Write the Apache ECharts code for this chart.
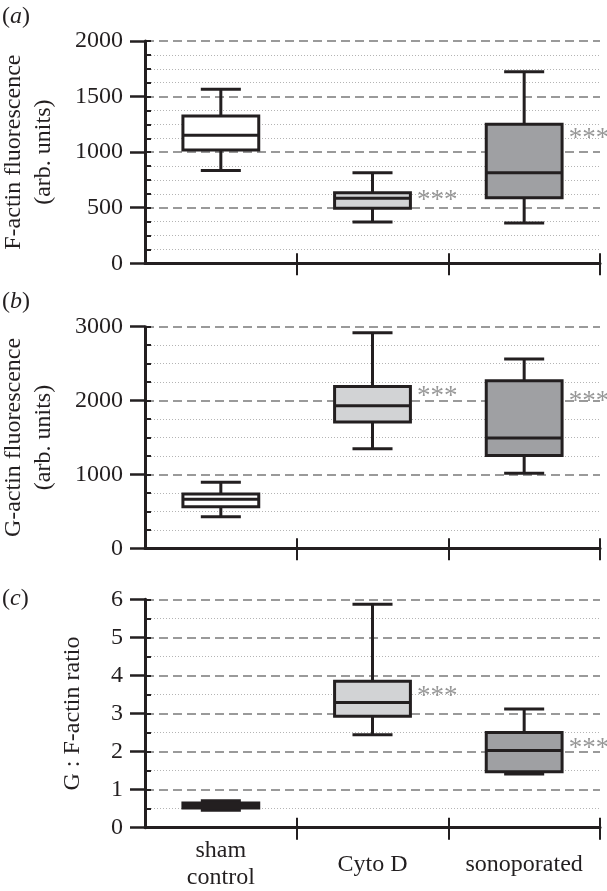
<!DOCTYPE html>
<html><head><meta charset="utf-8">
<script src="https://cdn.jsdelivr.net/npm/echarts@6/dist/echarts.min.js"></script>
<style>html,body{margin:0;padding:0;background:#fff}#c{width:607px;height:891px}</style>
</head><body><div id="c"></div>
<script>
// ---- data ----
const categories = ['sham\ncontrol', 'Cyto D', 'sonoporated'];
// [min, Q1, median, Q3, max]
const fActinBoxes = [[836, 1019, 1151, 1325, 1567], [371, 495, 585, 635, 815], [362, 590, 815, 1250, 1723]];
const gActinBoxes = [[428, 563, 663, 735, 893], [1348, 1709, 1930, 2192, 2918], [1015, 1258, 1493, 2268, 2562]];
const ratioBoxes = [[0.46, 0.52, 0.58, 0.65, 0.71], [2.44, 2.93, 3.29, 3.85, 5.87], [1.41, 1.47, 2.03, 2.50, 3.12]];
// significance marks: [category index, value where '***' sits]
const fActinSig = [[1, 560], [2, 1115]];
const gActinSig = [[1, 2050], [2, 1985]];
const ratioSig = [[1, 3.43], [2, 2.06]];
const sigText = '***';
const panelLetters = ['a', 'b', 'c'];
const yNames = ['F-actin fluorescence\n(arb. units)', 'G-actin fluorescence\n(arb. units)', 'G : F-actin ratio'];
const yMax = [2000, 3000, 6];
const yMajor = [500, 1000, 1];
const yMinor = [125, 250, 0.5];

// ---- styling ----
const FONT = '"Liberation Serif", "DejaVu Serif", serif';
const INK = '#231f20';
const boxFills = ['#ffffff', '#d2d3d5', '#9fa0a3'];
const panels = [
  { top: 41, height: 222.3, nameGap: 86, labelTop: 5 },
  { top: 326.7, height: 221.6, nameGap: 86, labelTop: 290 },
  { top: 599.3, height: 228.4, nameGap: 57, labelTop: 587 }
];
const boxesAll = [fActinBoxes, gActinBoxes, ratioBoxes];
const sigAll = [fActinSig, gActinSig, ratioSig];

function renderBox(params, api) {
  const c = api.value(0);
  const pts = [1, 2, 3, 4, 5].map(k => api.coord([c, api.value(k)]));
  const x = pts[0][0];
  const band = api.size([1, 0])[0];
  const hw = band * 0.25, cw = band * 0.132;
  const st = { stroke: INK, lineWidth: 3, fill: null };
  return {
    type: 'group', children: [
      { type: 'line', shape: { x1: x, y1: pts[0][1], x2: x, y2: pts[1][1] }, style: st },
      { type: 'line', shape: { x1: x, y1: pts[3][1], x2: x, y2: pts[4][1] }, style: st },
      { type: 'line', shape: { x1: x - cw, y1: pts[0][1], x2: x + cw, y2: pts[0][1] }, style: st },
      { type: 'line', shape: { x1: x - cw, y1: pts[4][1], x2: x + cw, y2: pts[4][1] }, style: st },
      { type: 'rect', shape: { x: x - hw, y: pts[3][1], width: 2 * hw, height: pts[1][1] - pts[3][1] },
        style: { fill: boxFills[c], stroke: INK, lineWidth: 3 } },
      { type: 'line', shape: { x1: x - hw, y1: pts[2][1], x2: x + hw, y2: pts[2][1] }, style: st }
    ]
  };
}

const grid = [], xAxis = [], yAxis = [], series = [], graphic = [];
const tickSkipFirst = function (index) { return index !== 0; };
panels.forEach((p, i) => {
  grid.push({ left: 145, width: 455, top: p.top, height: p.height, containLabel: false, outerBoundsMode: 'none' });
  const last = i === 2;
  xAxis.push({
    type: 'category', gridIndex: i, data: categories, boundaryGap: true,
    axisLine: { lineStyle: { color: INK, width: 3 } },
    axisTick: { show: true, interval: tickSkipFirst, length: 12, lineStyle: { color: INK, width: 2 } },
    axisLabel: { show: last, interval: 0, margin: 37, verticalAlign: 'middle', fontFamily: FONT, fontSize: 24, lineHeight: 27, color: INK },
    splitLine: { show: false }
  });
  xAxis.push({
    type: 'category', gridIndex: i, data: categories, boundaryGap: true, position: 'bottom',
    axisLine: { show: false },
    axisTick: { show: true, inside: true, interval: tickSkipFirst, length: 10, lineStyle: { color: INK, width: 2 } },
    axisLabel: { show: false }, splitLine: { show: false }
  });
  yAxis.push({
    type: 'value', gridIndex: i, min: 0, max: yMax[i], interval: yMajor[i], position: 'left',
    name: yNames[i], nameLocation: 'middle', nameGap: p.nameGap,
    nameTextStyle: { fontFamily: FONT, fontSize: 24, lineHeight: 30, color: INK },
    axisLine: { show: true, lineStyle: { color: INK, width: 3 } },
    axisTick: { show: true, length: 15, lineStyle: { color: INK, width: 2.5 } },
    minorTick: { show: false, splitNumber: Math.round(yMajor[i] / yMinor[i]) },
    axisLabel: { margin: 22, fontFamily: FONT, fontSize: 24, color: INK, formatter: v => String(v) },
    splitLine: { show: true, lineStyle: { color: '#9a9a9a', width: 2, type: [9, 5] } },
    minorSplitLine: { show: true, lineStyle: { color: '#b4b4b4', width: 1, type: [1, 2] } }
  });
  yAxis.push({
    type: 'value', gridIndex: i, min: 0, max: yMax[i], interval: yMinor[i], position: 'left',
    axisLine: { show: false },
    axisTick: { show: true, inside: true, length: 6, lineStyle: { color: INK, width: 2 } },
    axisLabel: { show: false }, splitLine: { show: false }
  });
  series.push({
    type: 'custom', xAxisIndex: 2 * i, yAxisIndex: 2 * i,
    data: boxesAll[i].map((d, k) => [k].concat(d)),
    encode: { x: 0, y: [1, 2, 3, 4, 5] },
    renderItem: renderBox, z: 3
  });
  series.push({
    type: 'scatter', xAxisIndex: 2 * i, yAxisIndex: 2 * i,
    data: sigAll[i], symbolSize: 1, itemStyle: { color: 'rgba(0,0,0,0)' }, z: 4,
    label: { show: true, formatter: sigText, position: 'right', distance: 44,
      fontFamily: FONT, fontSize: 27, color: '#7d7d7d' }
  });
  graphic.push({
    type: 'text', left: 2, top: p.labelTop,
    style: {
      text: '{n|(}{i|' + panelLetters[i] + '}{n|)}',
      rich: {
        n: { fontFamily: FONT, fontSize: 24, fill: INK },
        i: { fontFamily: FONT, fontSize: 24, fontStyle: 'italic', fill: INK }
      }
    }
  });
});

const chart = echarts.init(document.getElementById('c'), null, { renderer: 'canvas' });
chart.setOption({
  animation: false, backgroundColor: '#ffffff',
  grid, xAxis, yAxis, series, graphic
});
</script></body></html>
